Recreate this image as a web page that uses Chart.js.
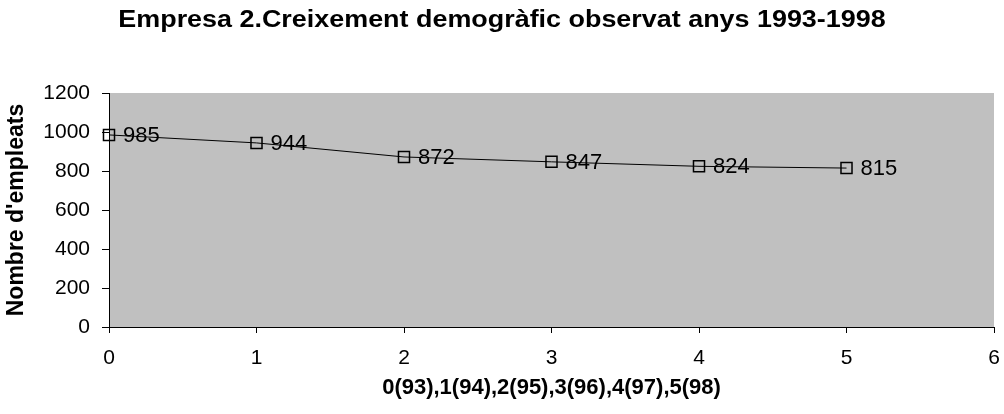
<!DOCTYPE html>
<html>
<head>
<meta charset="utf-8">
<title>Empresa 2. Creixement demogràfic</title>
<script src="https://cdn.jsdelivr.net/npm/chart.js@4/dist/chart.umd.min.js"></script>
<style>
  html, body { margin: 0; padding: 0; background: #ffffff; }
  #wrap { width: 1004px; height: 414px; }
</style>
</head>
<body>
<div id="wrap"><canvas id="chart" width="1004" height="414"></canvas></div>
<script>
// Year index (0 = 1993 ... 5 = 1998) and number of employees
const yearIndex = [0, 1, 2, 3, 4, 5];
const employees = [985, 944, 872, 847, 824, 815];

const chartTitle = 'Empresa 2.Creixement demogràfic observat anys 1993-1998';
const yAxisTitle = "Nombre d'empleats";
const xAxisTitle = '0(93),1(94),2(95),3(96),4(97),5(98)';

const FONT = "'Liberation Sans', Arial, Helvetica, sans-serif";

// Grey plotting area behind the series
const plotBackground = {
  id: 'plotBackground',
  beforeDraw(chart) {
    const { ctx, chartArea: a } = chart;
    ctx.save();
    ctx.fillStyle = '#c0c0c0';
    ctx.fillRect(a.left, a.top, a.right - a.left, a.bottom - a.top);
    ctx.restore();
  }
};

// Wide bold heading centred across the canvas
const headline = {
  id: 'headline',
  afterDraw(chart) {
    const { ctx, width } = chart;
    ctx.save();
    ctx.font = 'bold 23px ' + FONT;
    ctx.fillStyle = '#000000';
    ctx.textAlign = 'center';
    ctx.textBaseline = 'middle';
    ctx.translate(width / 2, 21);
    ctx.scale(1.17, 1);
    ctx.fillText(chartTitle, 0, 0);
    ctx.restore();
  }
};

// Value label printed to the right of each marker
const valueLabels = {
  id: 'valueLabels',
  afterDatasetsDraw(chart) {
    const { ctx } = chart;
    const meta = chart.getDatasetMeta(0);
    ctx.save();
    ctx.font = '22px ' + FONT;
    ctx.fillStyle = '#000000';
    ctx.textAlign = 'left';
    ctx.textBaseline = 'middle';
    meta.data.forEach((pt, i) => {
      ctx.fillText(String(employees[i]), pt.x + 14, pt.y + 1);
    });
    ctx.restore();
  }
};

new Chart(document.getElementById('chart'), {
  type: 'line',
  data: {
    datasets: [{
      data: yearIndex.map((x, i) => ({ x, y: employees[i] })),
      borderColor: '#000000',
      borderWidth: 1,
      tension: 0,
      pointStyle: 'rect',
      pointRadius: 7.8,
      pointHoverRadius: 7.8,
      pointBorderWidth: 1.5,
      pointBorderColor: '#000000',
      pointBackgroundColor: 'rgba(0,0,0,0)',
      clip: false
    }]
  },
  options: {
    responsive: false,
    animation: false,
    events: [],
    layout: { padding: { top: 93, right: 10, bottom: 0, left: 0 } },
    plugins: {
      legend: { display: false },
      tooltip: { enabled: false },
      title: { display: false }
    },
    scales: {
      x: {
        type: 'linear',
        min: 0,
        max: 6,
        ticks: {
          stepSize: 1,
          color: '#000000',
          font: { family: FONT, size: 21 },
          padding: 13,
          maxRotation: 0,
          callback: (v) => String(v)
        },
        grid: {
          drawOnChartArea: false,
          drawTicks: true,
          tickLength: 6,
          color: '#000000'
        },
        border: { display: true, color: '#000000', width: 1 },
        title: {
          display: true,
          text: xAxisTitle,
          color: '#000000',
          font: { family: FONT, size: 22, weight: 'bold' },
          padding: { top: 4, bottom: 13 }
        },
        afterFit(scale) {
          scale.height = 87;
          scale.paddingLeft = 0;
          scale.paddingRight = 0;
        }
      },
      y: {
        min: 0,
        max: 1200,
        ticks: {
          stepSize: 200,
          color: '#000000',
          font: { family: FONT, size: 21 },
          padding: 12,
          callback: (v) => String(v)
        },
        grid: {
          drawOnChartArea: false,
          drawTicks: true,
          tickLength: 7,
          color: '#000000'
        },
        border: { display: true, color: '#000000', width: 1 },
        title: {
          display: true,
          text: yAxisTitle,
          color: '#000000',
          font: { family: FONT, size: 23, weight: 'bold' },
          padding: { top: 3, bottom: 4 }
        },
        afterFit(scale) { scale.width = 109; }
      }
    }
  },
  plugins: [plotBackground, valueLabels, headline]
});
</script>
</body>
</html>
